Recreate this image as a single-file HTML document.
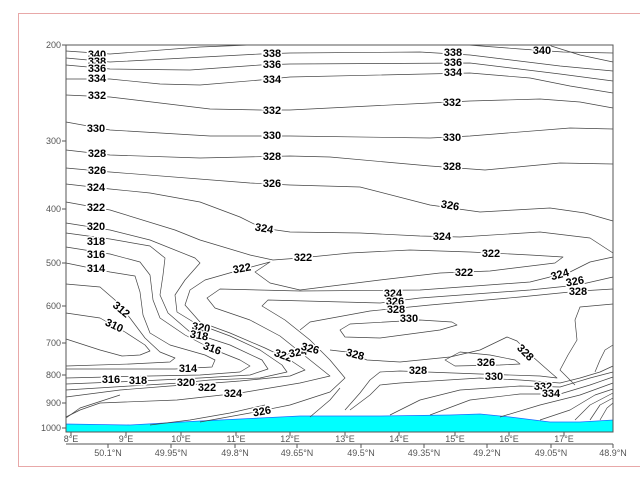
<!DOCTYPE html>
<html><head><meta charset="utf-8"><style>
html,body{margin:0;padding:0;background:#fff;}
svg{display:block;}
text{font-family:"Liberation Sans",sans-serif;}
.c{fill:none;stroke:#444;stroke-width:0.7;stroke-linejoin:round;}
.l{font-size:11px;font-weight:bold;fill:#000;stroke:#fff;stroke-width:3px;paint-order:stroke;text-anchor:middle;dominant-baseline:central;}
.ax{font-size:9px;fill:#555;}
</style></head><body>
<svg width="640" height="494" viewBox="0 0 640 494" xmlns="http://www.w3.org/2000/svg">
<rect x="18.5" y="13.5" width="640" height="453" fill="none" stroke="#e8a8a8" stroke-width="1"/>
<path d="M66,424 L130,425 L200,421 L260,418 L300,416 L380,416 L450,415 L480,414 L510,417 L550,422 L580,422 L613,420 L613,432 L66,432 Z" fill="#00ffff" stroke="#1a6cff" stroke-width="0.8"/>
<g class="c">
<path d="M66,51 L110,54 L200,47 L250,45"/>
<path d="M468,45 L520,49 L563,52 L613,53"/>
<path d="M548,45 L580,55 L613,62"/>
<path d="M66,58 L110,62 L260,54 L290,53 L420,52 L470,55 L560,66 L613,71"/>
<path d="M66,65 L110,69 L190,70 L260,65 L290,64 L470,63 L560,74 L613,81"/>
<path d="M66,79 L110,79 L160,84 L200,85 L260,80 L290,77 L470,73 L530,78 L570,86 L613,93"/>
<path d="M66,95 L110,97 L210,109 L260,110 L290,110 L430,103 L470,101 L540,99 L580,102 L613,108"/>
<path d="M66,122 L110,130 L210,136 L290,136 L430,138 L470,136 L570,128 L613,129"/>
<path d="M66,150 L110,155 L200,158 L290,156 L330,157 L430,166 L485,170 L560,163 L613,164"/>
<path d="M66,168 L110,172 L250,183 L290,185 L360,187 L430,205 L480,212 L550,208 L585,213 L613,221"/>
<path d="M66,184 L110,189 L150,193 L200,202 L240,217 L262,228 L290,232 L360,233 L420,236 L460,237 L540,232 L590,238 L613,253"/>
<path d="M66,202 L110,210 L175,230 L200,240 L250,255 L273,260 L300,258 L350,253 L410,250 L470,252 L530,255 L563,257 L555,263 L490,271 L440,273 L380,280 L300,290 L270,283 L255,272 L270,262 L240,270 L205,280 L190,290 L185,305 L200,322 L230,333 L265,348 L290,360 L305,370 L290,376 L240,381 L200,384 L170,386 L120,390 L66,397"/>
<path d="M66,223 L110,230 L150,240 L195,258 L200,263 L185,280 L175,295 L177,312 L195,323 L230,336 L260,350 L282,365 L287,372 L260,378 L210,380 L180,383 L130,386 L66,390"/>
<path d="M66,233 L110,239 L150,246 L165,258 L163,275 L160,295 L168,313 L190,332 L230,345 L262,360 L268,369 L250,375 L200,378 L140,381 L66,384"/>
<path d="M66,247 L110,254 L140,262 L150,275 L153,300 L160,318 L185,335 L210,348 L240,360 L250,366 L240,372 L200,375 L150,376 L66,378"/>
<path d="M66,263 L110,272 L135,276 L140,292 L143,315 L150,333 L170,345 L205,355 L215,360 L212,367 L175,369 L66,369"/>
<path d="M66,284 L100,287 L115,300 L130,318 L145,338 L160,352 L175,358 L170,362 L130,364 L66,366"/>
<path d="M66,313 L100,318 L125,332 L145,345 L150,351 L140,355 L122,356 L100,350 L66,339"/>
<path d="M66,417 L80,410 L100,403 L177,400 L240,393 L300,383 L330,376 L320,368 L300,352 L280,336 L250,320 L215,308 L207,298 L220,289 L300,291 L420,290 L530,282 L570,272 L590,262 L613,257"/>
<path d="M200,422 L250,413 L290,405 L330,392 L345,378 L330,360 L310,340 L285,320 L262,306 L268,300 L380,303 L420,298 L530,290 L578,285 L613,277"/>
<path d="M300,330 L310,322 L370,311 L430,305 L520,297 L580,291 L613,289"/>
<path d="M340,330 L345,337 L380,338 L440,330 L457,325 L452,322 L420,320 L350,324 Z"/>
<path d="M330,350 L347,352 L367,360 L400,362 L450,357 L480,350 L507,337 L517,341 L533,357 L550,372 L557,378 L540,376 L480,374 L400,371 L380,372 L370,380 L360,393 L345,410"/>
<path d="M445,360 L460,352 L490,355 L515,360 L520,364 L500,365 L455,366 Z"/>
<path d="M350,410 L370,395 L380,385 L400,383 L480,378 L520,380 L560,383 L580,378 L600,372 L613,366"/>
<path d="M390,415 L420,400 L460,390 L520,386 L560,387 L590,378 L613,372"/>
<path d="M430,415 L470,400 L520,394 L560,394 L590,385 L613,377"/>
<path d="M500,417 L540,405 L580,395 L613,383"/>
<path d="M540,420 L570,410 L595,395 L613,389"/>
<path d="M575,420 L590,405 L613,393"/>
<path d="M590,420 L600,405 L613,398"/>
<path d="M600,420 L607,408 L613,403"/>
<path d="M613,304 L580,307 L575,320 L577,340 L568,355 L560,370 L575,385"/>
<path d="M613,345 L605,350 L600,360 L595,372"/>
<path d="M66,418 L80,408 L120,395"/>
<path d="M150,425 L190,420 L230,413 L265,405"/>
<path d="M310,417 L330,400 L340,388"/>
</g>
<g class="l">
<text x="97" y="55">340</text><text x="97" y="62">338</text><text x="97" y="69">336</text><text x="97" y="79">334</text>
<text x="97" y="96">332</text><text x="96" y="129">330</text><text x="97" y="154">328</text><text x="97" y="171">326</text>
<text x="96" y="188">324</text><text x="96" y="208">322</text><text x="96" y="227">320</text><text x="96" y="242">318</text>
<text x="96" y="255">316</text><text x="96" y="269">314</text>
<text x="272" y="54">338</text><text x="272" y="65">336</text><text x="272" y="80">334</text><text x="272" y="111">332</text>
<text x="272" y="136">330</text><text x="272" y="157">328</text><text x="272" y="184">326</text><text x="264" y="229" transform="rotate(10 264 229)">324</text>
<text x="453" y="53">338</text><text x="453" y="63">336</text><text x="453" y="73">334</text><text x="452" y="103">332</text>
<text x="452" y="138">330</text><text x="452" y="167">328</text><text x="450" y="206" transform="rotate(10 450 206)">326</text><text x="442" y="237">324</text>
<text x="542" y="51">340</text>
<text x="242" y="269" transform="rotate(-10 242 269)">322</text><text x="303" y="258">322</text>
<text x="491" y="254">322</text><text x="464" y="273">322</text>
<text x="560" y="275" transform="rotate(-15 560 275)">324</text><text x="575" y="282" transform="rotate(-10 575 282)">326</text><text x="578" y="292">328</text>
<text x="393" y="294">324</text><text x="395" y="302">326</text><text x="396" y="310">328</text><text x="409" y="319">330</text>
<text x="121" y="310" transform="rotate(40 121 310)">312</text><text x="114" y="326" transform="rotate(25 114 326)">310</text>
<text x="201" y="328" transform="rotate(10 201 328)">320</text><text x="199" y="336" transform="rotate(10 199 336)">318</text><text x="212" y="349" transform="rotate(20 212 349)">316</text>
<text x="188" y="369">314</text><text x="111" y="380">316</text><text x="138" y="381">318</text>
<text x="186" y="383">320</text><text x="207" y="388">322</text><text x="233" y="394">324</text><text x="262" y="412" transform="rotate(-10 262 412)">326</text>
<text x="283" y="356" transform="rotate(20 283 356)">322</text><text x="298" y="353" transform="rotate(-10 298 353)">324</text><text x="310" y="349" transform="rotate(15 310 349)">326</text>
<text x="355" y="355" transform="rotate(15 355 355)">328</text><text x="486" y="363">326</text><text x="525" y="353" transform="rotate(45 525 353)">328</text>
<text x="418" y="371">328</text><text x="494" y="377">330</text><text x="543" y="387">332</text><text x="551" y="394">334</text>
</g>
<g stroke="#555" stroke-width="1" fill="none">
<path d="M66,45 L66,432 L613,432 L613,45 L66,45"/>
<path d="M66,444 L613,444"/>
<path d="M62,45H66M62,141H66M62,209H66M62,263H66M62,306H66M62,343H66M62,375H66M62,403H66M62,428H66"/>
<path d="M71,432v4M126,432v4M181,432v4M236,432v4M290,432v4M345,432v4M399,432v4M455,432v4M509,432v4M564,432v4"/>
<path d="M108,444v4M171,444v4M235,444v4M297,444v4M361,444v4M424,444v4M487,444v4M551,444v4M613,444v4"/>
</g>
<g class="ax" text-anchor="end">
<text x="61" y="48">200</text><text x="61" y="144">300</text><text x="61" y="212">400</text><text x="61" y="266">500</text>
<text x="61" y="309">600</text><text x="61" y="346">700</text><text x="61" y="378">800</text><text x="61" y="406">900</text><text x="61" y="431">1000</text>
</g>
<g class="ax" text-anchor="middle">
<text x="71" y="442">8°E</text><text x="126" y="442">9°E</text><text x="181" y="442">10°E</text><text x="236" y="442">11°E</text><text x="290" y="442">12°E</text>
<text x="345" y="442">13°E</text><text x="399" y="442">14°E</text><text x="455" y="442">15°E</text><text x="509" y="442">16°E</text><text x="564" y="442">17°E</text>
<text x="108" y="456">50.1°N</text><text x="171" y="456">49.95°N</text><text x="235" y="456">49.8°N</text><text x="297" y="456">49.65°N</text><text x="361" y="456">49.5°N</text>
<text x="424" y="456">49.35°N</text><text x="487" y="456">49.2°N</text><text x="551" y="456">49.05°N</text><text x="613" y="456">48.9°N</text>
</g>
</svg>
</body></html>
